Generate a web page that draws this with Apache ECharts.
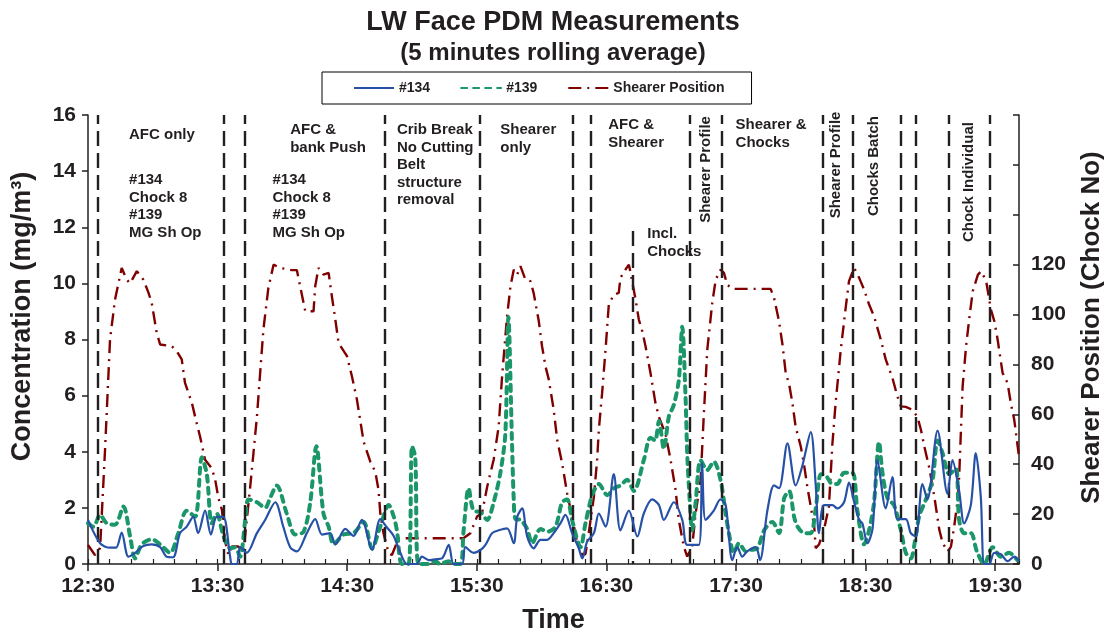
<!DOCTYPE html>
<html>
<head>
<meta charset="utf-8">
<script src="https://cdn.jsdelivr.net/npm/echarts@6/dist/echarts.min.js"></script>
<style>
html,body{margin:0;padding:0;background:#fff;}
#chart{width:1106px;height:632px;}
</style>
</head>
<body>
<div id="chart"></div>
<script>
// x values are minutes after 12:30
const xTickLabels = ['12:30','13:30','14:30','15:30','16:30','17:30','18:30','19:30'];
const leftTicks = [0,2,4,6,8,10,12,14,16];
const rightTickLabels = [0,20,40,60,80,100,120];

const pdm134 = [[0,1.57],[5.6,0.74],[10.2,0.58],[13,0.58],[15.6,1.12],[18.7,0.26],[21.8,0.4],[25.6,0.64],[29.5,0.7],[33.4,0.6],[36.5,0.26],[39.4,0.24],[42.6,1.1],[45.7,1.33],[48.7,1.68],[51,1.1],[54.2,1.9],[56.9,1.05],[59.6,1.68],[62.6,1.68],[65.8,0.26],[66.6,0],[68.9,0],[70.4,0.6],[73.5,0.4],[78.2,1.1],[82,1.57],[86.7,2.2],[90.4,1.33],[93.6,0.6],[96.7,0.45],[101.3,1.1],[105.2,1.6],[108.3,1.05],[112.1,1.1],[114.5,0.7],[119.1,1.25],[122.9,1.0],[126.8,1.57],[131.5,0.5],[135.3,1.6],[138.4,1.3],[141.5,1.0],[144.6,0.4],[147.7,0],[152.3,0],[154.6,0.26],[157.7,0.14],[160.8,0.17],[163.9,0.2],[167,0.68],[169.3,0],[173.2,0],[174.7,0.6],[178.5,0.4],[181.7,0.5],[184,0.68],[187.1,1.1],[190.1,1.2],[194,1.27],[197.1,0.74],[198.7,1.68],[201,1.98],[203.3,0.98],[206.3,0.56],[209.5,0.86],[212.6,0.86],[215.6,1.1],[218.7,1.45],[221,1.75],[224.1,1.1],[227.2,0.56],[228.8,0.2],[231.1,0.8],[234.2,1.1],[236.5,1.8],[239.6,1.33],[243.4,3.2],[246.5,1.2],[250.4,1.9],[254.3,0.98],[257.3,1.8],[261.2,2.3],[264.3,2.1],[266.6,1.57],[271.2,2.2],[275.1,1.57],[277.4,0.68],[282.8,0.68],[284.3,3.6],[285.9,1.57],[289.7,1.9],[292.8,2.3],[295.2,2.1],[298.3,0.14],[300.6,0.6],[302.9,0.26],[305.2,0.45],[309.1,0.6],[311.1,0.14],[314.5,1.9],[317.6,2.8],[319.9,2.7],[323.8,4.3],[327.6,2.8],[330.7,3.5],[334.6,4.7],[336.9,2.8],[338.4,1.1],[340.7,2.1],[344.6,2.1],[346.9,1.98],[350,2.2],[352.3,2.9],[354.7,2.2],[357,1.57],[358.5,1.45],[360.8,0.74],[363.2,1.25],[365.5,3.7],[369.3,1.98],[372.4,3.1],[374.7,1.6],[378.6,1.6],[380.9,1.1],[383.2,0.98],[386.3,2.85],[388.6,2.3],[393.3,4.75],[397.9,2.5],[400.2,3.7],[403.3,2.6],[405.6,1.45],[408.7,2.1],[411,3.95],[413.3,2.4],[414.9,0],[417.2,0],[419.5,0.4],[422.6,0.35],[425.7,0.1],[428.8,0.26],[431,0.1]];

const pdm139 = [[0,1.45],[2.5,1.33],[5.6,1.75],[8.7,1.45],[12.5,1.4],[16.4,2.05],[19.5,0.98],[21.8,0.2],[24.9,0.7],[29.5,0.88],[33.4,0.7],[38,0.4],[41.8,1.1],[45.7,1.9],[49.6,1.68],[52.7,3.8],[55,3.2],[57.3,1.45],[59.6,1.8],[62.7,1.0],[65.8,0.56],[68.1,0.6],[70.4,0.26],[72.8,1.57],[74.3,2.3],[78.2,2.2],[82,2.0],[84.3,2.35],[87.4,2.8],[92,1.8],[95.9,1.05],[99.8,1.15],[102.9,2.2],[105.7,4.2],[109,1.8],[111.4,1.33],[113.7,0.7],[118.3,1.05],[122.9,1.1],[127.6,1.5],[131.5,0.56],[135.3,1.33],[139.2,2.1],[141.5,1.7],[143,1.2],[145.3,0],[148.4,0],[150,4.2],[151.5,3.8],[153,0],[158,0],[160.8,0.1],[163,0],[166.8,0.1],[169,0],[172.4,0],[173.9,1.2],[176.2,2.7],[178.5,1.9],[181.7,1.85],[184.8,1.57],[187.8,2.2],[190.9,3.25],[193.2,4.65],[194.6,8.8],[196.3,4.3],[197.1,2.3],[197.9,1.6],[200.2,1.57],[203.3,1.25],[205.6,0.74],[209.5,1.25],[212.6,1.15],[216.4,1.33],[219.5,2.2],[221.8,2.3],[224.1,1.57],[228,0.6],[230.3,1.45],[233.4,2.45],[236.5,2.85],[240.4,2.45],[243.4,2.7],[246.5,2.8],[249.6,3.0],[252.7,2.6],[257.3,3.7],[260.4,4.5],[262.5,4.4],[264.3,5.1],[266.6,4.1],[268.9,5.25],[271.2,5.67],[273.5,6.55],[275.1,8.45],[276.6,6.0],[277.4,3.95],[278.2,2.75],[279.7,1.2],[281.3,2.2],[283.6,3.7],[286.7,3.35],[289.7,3.65],[292.8,3.0],[295.2,1.8],[296.7,1.1],[299,0.4],[301.4,0.74],[304.5,0.45],[306.8,0.5],[309.9,0.56],[313,1.2],[316.8,1.5],[319.9,1.1],[322.3,2.35],[324.6,2.6],[326.9,1.68],[328.5,1.33],[331.6,1.1],[334.6,1.1],[336.9,1.98],[339.3,3.2],[341.6,3.15],[344.6,2.85],[346.9,2.85],[350,3.25],[353.9,3.25],[356.2,1.9],[359.3,0.7],[361.6,1.2],[363.9,2.2],[366.2,4.35],[367.8,3.25],[370.1,2.35],[373.1,2.1],[376.3,1.2],[378.6,0.4],[380.9,0.2],[383.2,1.0],[384.8,1.7],[387.9,2.3],[391,3.0],[393.3,4.4],[395.6,3.95],[398.7,3.2],[401.8,3.4],[403.3,1.57],[405.6,1.1],[408.7,1.1],[411.5,0.45],[414.9,0],[418.8,0.6],[422.6,0.26],[426.4,0.4],[430.2,0.14]];

const shearerPos = [[0,7.6],[3.2,3.6],[5.6,6.4],[7.9,46],[10.2,90],[12.5,106],[15.6,118.7],[17.9,114],[19.5,112.5],[22.6,117.4],[25.6,114],[27.9,109],[29.5,104.7],[31.8,92.7],[33.4,88],[38.8,87.3],[41.1,85.3],[43.4,82],[44.9,72.6],[48.1,64.6],[49.6,59],[51.9,51],[54.2,41.8],[57.3,38.4],[58.9,33.7],[60.4,26.4],[62,21.7],[63.5,9],[65,3.6],[66.6,7],[69.6,7],[72,5],[73.5,17.7],[75.1,31],[76.6,44.5],[78.2,59],[79.7,76.6],[81.2,94],[83.5,110.7],[85.9,120],[89,118.7],[94.4,117.8],[96.7,117.8],[98.2,111.4],[100.6,101.3],[104.4,101.3],[105.2,111.4],[106.7,118.7],[109,116],[111.4,116.7],[112.9,107.3],[114.5,98],[116,88.6],[119.9,83.3],[122.2,75.2],[124.5,65.9],[127.6,49],[130.7,41],[133,37],[134.5,29.7],[135.3,20.5],[136.8,12.3],[139.2,4.3],[140.7,3.6],[143.8,10.3],[173.8,10.3],[177,12.3],[180.1,19],[182.4,20.3],[184.8,31],[187.8,41.8],[190.1,55],[191.7,75.2],[194,99.3],[195.6,111.4],[197.1,118],[198.7,116],[200.2,119.4],[202.5,114],[204.8,113.4],[206.3,108.7],[208.7,97.3],[210.2,87.3],[211.8,79.2],[213.3,74],[215.6,61.8],[217.2,49.8],[219.5,40.4],[221.8,28.4],[224.1,19],[226.5,8.3],[228.8,3.6],[230.3,4],[231.8,12.3],[234.2,27],[235.7,41.8],[236.5,54],[238,68.5],[239.6,86],[241.1,104],[243.4,108],[245.7,108.7],[246.5,114.7],[248.8,118],[250.4,120],[251.2,116.7],[253.5,106],[255,98],[256.6,93.3],[258.1,87.3],[260.4,76.6],[262.7,64.5],[264.3,59],[267.4,52],[269.7,41.8],[272,29.7],[273.5,17.7],[275.8,7],[277.4,3],[279.7,7],[281.3,20.3],[283.6,33.7],[285.1,60],[286.7,86],[289,104.7],[290.6,114],[292.8,118],[294.4,116.7],[295.9,112],[298.3,110.3],[316,110.3],[317.6,106.7],[319.9,97.3],[321.5,88],[323,76.6],[324.6,72],[326.1,64.5],[327.6,55],[330,47],[331.5,39.8],[333,31],[334.6,23],[336.2,15],[336.9,6.3],[338.4,7.8],[340.7,13.7],[343,23],[344.6,48],[346.1,64.5],[348.5,86],[350.8,103],[352.3,113.4],[354.7,118.7],[357,114.7],[359.3,110],[361.6,104],[363.9,99.3],[367,90],[369.3,82],[372.4,74.6],[374.7,67.2],[376.3,63.2],[378.6,63],[381.7,61.8],[384,59],[385.6,53.8],[387.2,47],[389.5,38.4],[391.8,27],[394.1,13.7],[395.7,8.3],[398,5],[399.5,7],[401,15],[402.7,26.4],[403.3,35],[404.9,71.2],[406.5,87.3],[408.1,99.3],[409.6,109.4],[412,116],[413.5,117.4],[415.8,113.4],[418,102],[419.6,97.3],[421.1,90],[423.4,76.6],[425.7,72.6],[427.2,64.5],[428.8,57.8],[431,43]];

// phase divider lines (minutes after 12:30)
const dividers = [4.5,63,72.4,137.2,181.3,224.6,232.9,278.5,293.6,340,353.9,376.3,383.2,398.4,417.5];
const shortDivider = {x:252.2, top:11.87};

// annotations: [minute, concentration, text, vertical]
const notes = [
  [19.0,15.6,'AFC only',false],
  [19.0,14.0,'#134\nChock 8\n#139\nMG Sh Op',false],
  [93.6,15.78,'AFC &\nbank Push',false],
  [85.4,14.0,'#134\nChock 8\n#139\nMG Sh Op',false],
  [143.0,15.78,'Crib Break\nNo Cutting\nBelt\nstructure\nremoval',false],
  [190.9,15.78,'Shearer\nonly',false],
  [240.8,15.96,'AFC &\nShearer',false],
  [258.9,12.07,'Incl.\nChocks',false],
  [299.8,15.96,'Shearer &\nChocks',false],
  [285.9,14.06,'Shearer Profile',true],
  [346.2,14.22,'Shearer Profile',true],
  [363.9,14.18,'Chocks Batch',true],
  [407.9,13.61,'Chock Individual',true]
];

const FONT = 'Liberation Sans, Arial, sans-serif';
const TXT = '#231f20';
const fmtTime = v => (v % 60 === 0 ? xTickLabels[v/60] : '');

const chart = echarts.init(document.getElementById('chart'), null, {renderer:'canvas'});

const grid = {left:88, right:87, top:115, bottom:68, containLabel:false, outerBoundsMode:'none'};

const option = {
  backgroundColor:'#fff',
  animation:false,
  title:[
    {text:'LW Face PDM Measurements', left:'center', top:4,
     textStyle:{fontFamily:FONT, fontWeight:'bold', fontSize:27, color:TXT}},
    {text:'(5 minutes rolling average)', left:'center', top:36,
     textStyle:{fontFamily:FONT, fontWeight:'bold', fontSize:24, color:TXT}}
  ],
  legend:{
    data:['#134','#139','Shearer Position'],
    left:322, top:72, padding:[9,27,9,31],
    borderColor:'#000', borderWidth:1,
    itemWidth:40, itemHeight:14, itemGap:30,
    itemStyle:{opacity:0},
    textStyle:{fontFamily:FONT, fontWeight:'bold', fontSize:14, color:TXT}
  },
  grid:[Object.assign({}, grid), Object.assign({}, grid)],
  xAxis:[
    {type:'value', gridIndex:0, min:0, max:431, interval:60,
     name:'Time', nameLocation:'middle', nameGap:43,
     nameTextStyle:{fontFamily:FONT, fontWeight:'bold', fontSize:27, color:TXT},
     axisLine:{lineStyle:{color:'#231f20', width:1.5}},
     axisTick:{show:true, inside:false, length:7, lineStyle:{color:'#231f20', width:1.5}},
     axisLabel:{formatter:fmtTime, fontFamily:FONT, fontWeight:'bold', fontSize:21, color:TXT, margin:12, showMaxLabel:false},
     splitLine:{show:false}},
    {type:'value', gridIndex:1, min:0, max:431, interval:10,
     axisLine:{show:false},
     axisTick:{show:true, inside:true, length:5, lineStyle:{color:'#231f20', width:1.2}},
     axisLabel:{show:false}, splitLine:{show:false}}
  ],
  yAxis:[
    {type:'value', gridIndex:0, min:0, max:16, interval:2, position:'left',
     name:'Concentration (mg/m³)', nameLocation:'middle', nameGap:52,
     nameTextStyle:{fontFamily:FONT, fontWeight:'bold', fontSize:27, color:TXT, padding:[0,0,0,46]},
     axisLine:{show:true, lineStyle:{color:'#231f20', width:1.5}},
     axisTick:{show:true, inside:false, length:6, lineStyle:{color:'#231f20', width:1.5}},
     axisLabel:{fontFamily:FONT, fontWeight:'bold', fontSize:21, color:TXT, margin:12},
     splitLine:{show:false}},
    {type:'value', gridIndex:0, min:0, max:180, interval:20, position:'right',
     alignTicks:false,
     name:'Shearer Position (Chock No)', nameLocation:'middle', nameGap:60,
     nameTextStyle:{fontFamily:FONT, fontWeight:'bold', fontSize:26, color:TXT, padding:[0,0,0,24]},
     axisLine:{show:true, lineStyle:{color:'#231f20', width:1.5}},
     axisTick:{show:true, inside:true, length:6, lineStyle:{color:'#231f20', width:1.5}},
     axisLabel:{fontFamily:FONT, fontWeight:'bold', fontSize:21, color:TXT, margin:12,
       formatter: v => (rightTickLabels.indexOf(v) >= 0 ? String(v) : '')},
     splitLine:{show:false}},
    {type:'value', gridIndex:1, min:0, max:16, show:false}
  ],
  series:[
    {name:'dividers', type:'line', xAxisIndex:0, yAxisIndex:0, data:[], silent:true, z:1, symbol:'none',
     markLine:{silent:true, symbol:['none','none'], label:{show:false},
       lineStyle:{color:'#231f20', type:[15,7], width:2.4},
       data: dividers.map(v => ({xAxis:v})).concat([[
         {coord:[shortDivider.x, shortDivider.top]},
         {coord:[shortDivider.x, 0]}
       ]])
     }},
    {name:'Shearer Position', type:'line', xAxisIndex:0, yAxisIndex:1, data:shearerPos,
     symbol:'none', showSymbol:false, smooth:false, z:3,
     lineStyle:{color:'#800000', width:2.4, type:[13,6,2,6]},
     itemStyle:{color:'#800000'}},
    {name:'#139', type:'line', xAxisIndex:0, yAxisIndex:0, data:pdm139,
     symbol:'none', showSymbol:false, smooth:0.3, z:4,
     lineStyle:{color:'#1a9668', width:4, type:[6,6], cap:'round'},
     itemStyle:{color:'#1a9668'}},
    {name:'#134', type:'line', xAxisIndex:0, yAxisIndex:0, data:pdm134,
     symbol:'none', showSymbol:false, smooth:0.3, z:5,
     lineStyle:{color:'#2651a6', width:2.2},
     itemStyle:{color:'#2651a6'}}
  ]
};

chart.setOption(option);

const g = notes.map(n => {
  const p = chart.convertToPixel({xAxisIndex:0, yAxisIndex:0}, [n[0], n[1]]);
  if (n[3]) {
    return {type:'text', x:p[0], y:p[1], rotation:Math.PI/2, silent:true, z:10,
      style:{text:n[2], fill:TXT, font:'bold 15px ' + FONT, align:'center', verticalAlign:'middle'}};
  }
  return {type:'text', x:p[0], y:p[1], silent:true, z:10,
    style:{text:n[2], fill:TXT, font:'bold 15px ' + FONT, align:'left', verticalAlign:'top', lineHeight:17.5}};
});
chart.setOption({graphic:g});
</script>
</body>
</html>
